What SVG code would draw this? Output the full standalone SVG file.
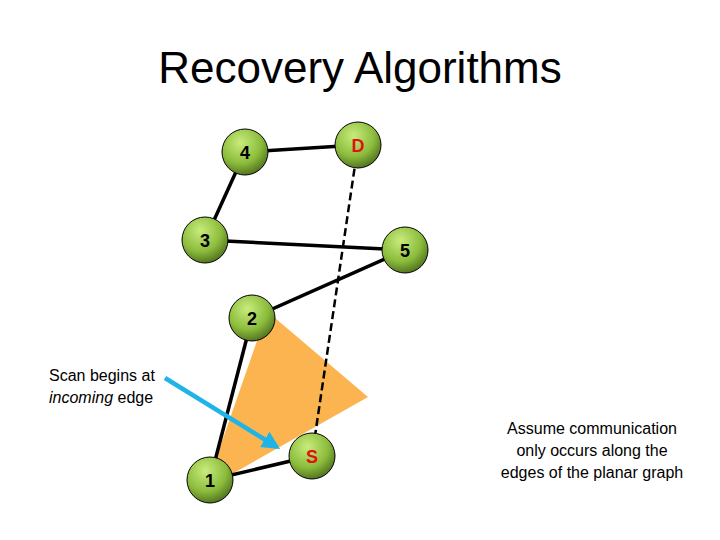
<svg xmlns="http://www.w3.org/2000/svg" width="720" height="540" viewBox="0 0 720 540">
<style>
.t{font-family:"Liberation Sans",Arial,sans-serif}
.e{stroke:#000;stroke-width:3.5;fill:none}
.n circle{fill:url(#g);stroke:#000;stroke-width:1}
.n text{font-family:"Liberation Sans",Arial,sans-serif;font-size:18px;font-weight:bold;text-anchor:middle}
</style>
<defs>
<radialGradient id="g" cx="0.4" cy="0.3" r="0.75"><stop offset="0" stop-color="#c8ec7c"/><stop offset="0.6" stop-color="#8cbc3c"/><stop offset="1" stop-color="#4a6a1c"/></radialGradient>
<marker id="a" viewBox="0 0 10 10" refX="8" refY="5" markerWidth="4" markerHeight="4" orient="auto"><path d="M0,0L10,5L0,10z" fill="#1eb4e6"/></marker>
</defs>
<rect width="720" height="540" fill="#fff"/>
<text class="t" x="360" y="83" font-size="44" text-anchor="middle">Recovery Algorithms</text>
<polygon points="275,318 368,397 225,478 212,470 258,338" fill="#fbb450"/>
<g id="connectors">
<line class="e" x1="245" y1="152" x2="358" y2="145"/>
<line class="e" x1="245" y1="152" x2="205" y2="240"/>
<line class="e" x1="205" y1="240" x2="405" y2="250"/>
<line class="e" x1="405" y1="250" x2="252" y2="318"/>
<line class="e" x1="252" y1="318" x2="210" y2="480"/>
<line class="e" x1="210" y1="480" x2="312" y2="456"/>
<line x1="358" y1="145" x2="312" y2="456" stroke="#000" stroke-width="2.5" stroke-dasharray="8,4"/>
<line x1="165" y1="378" x2="277" y2="447" stroke="#1eb4e6" stroke-width="4.5" marker-end="url(#a)"/>
</g>
<g id="n4" class="n"><circle cx="245" cy="152" r="23"/><text x="245" y="159">4</text></g>
<g id="nD" class="n"><circle cx="358" cy="145" r="23"/><text x="358" y="152" fill="#e01010">D</text></g>
<g id="n3" class="n"><circle cx="205" cy="240" r="23"/><text x="205" y="247">3</text></g>
<g id="n5" class="n"><circle cx="405" cy="250" r="23"/><text x="405" y="257">5</text></g>
<g id="n2" class="n"><circle cx="252" cy="318" r="23"/><text x="252" y="325">2</text></g>
<g id="n1" class="n"><circle cx="210" cy="480" r="23"/><text x="210" y="487">1</text></g>
<g id="nS" class="n"><circle cx="312" cy="456" r="23"/><text x="312" y="463" fill="#e01010">S</text></g>
<text class="t" x="49" y="381" font-size="16">Scan begins at</text>
<text class="t" x="49" y="403" font-size="16"><tspan font-style="italic">incoming</tspan> edge</text>
<text class="t" font-size="16" text-anchor="middle"><tspan x="592" y="434">Assume communication</tspan><tspan x="592" y="456">only occurs along the</tspan><tspan x="592" y="478">edges of the planar graph</tspan></text>
</svg>
